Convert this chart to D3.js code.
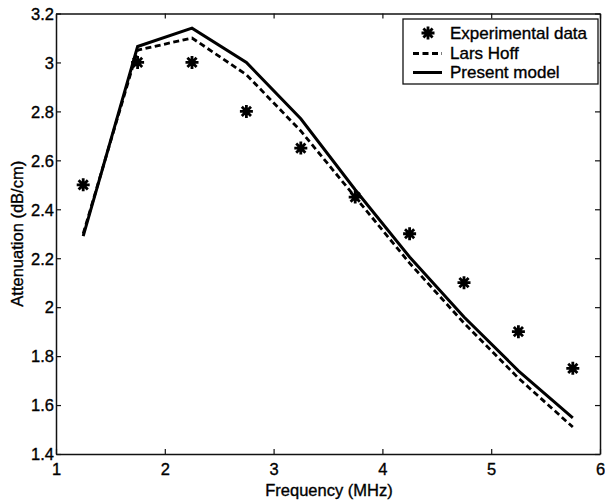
<!DOCTYPE html>
<html><head><meta charset="utf-8">
<script src="https://cdn.jsdelivr.net/npm/d3@7/dist/d3.min.js"></script>
<style>
body{margin:0;background:#fff;}
svg{display:block;font-family:"Liberation Sans",Arial,Helvetica,sans-serif;}
text{stroke:#000;stroke-width:0.35px;}
</style></head>
<body><svg id="c" width="605" height="501"></svg>
<script>
const freq = [1.25, 1.75, 2.25, 2.75, 3.25, 3.75, 4.25, 4.75, 5.25, 5.75];
const experimental = [2.5, 3.0, 3.0, 2.8, 2.65, 2.45, 2.3, 2.1, 1.9, 1.75];
const larsHoff = [2.30, 3.05, 3.10, 2.95, 2.72, 2.45, 2.18, 1.935, 1.71, 1.51];
const presentModel = [2.29, 3.065, 3.14, 3.0, 2.77, 2.48, 2.205, 1.96, 1.74, 1.548];
const xTicks = [1, 2, 3, 4, 5, 6];
const yTicks = [1.4, 1.6, 1.8, 2, 2.2, 2.4, 2.6, 2.8, 3, 3.2];
const legendLabels = ["Experimental data", "Lars Hoff", "Present model"];

const L = 56, R = 600, T = 13.5, B = 454;
const svg = d3.select("#c");
const x = d3.scaleLinear().domain([1, 6]).range([L, R]);
const y = d3.scaleLinear().domain([1.4, 3.2]).range([B, T]);
const fs = 16.5;

// axes (MATLAB box with inward ticks)
const fmt = d => String(+d.toFixed(1));
const gB = svg.append("g").attr("transform", `translate(0,${B})`)
  .call(d3.axisBottom(x).tickValues(xTicks).tickSizeInner(-5).tickSizeOuter(0).tickPadding(9).tickFormat(fmt));
const gT = svg.append("g").attr("transform", `translate(0,${T})`)
  .call(d3.axisTop(x).tickValues(xTicks).tickSizeInner(-5).tickSizeOuter(0).tickFormat(""));
const gL = svg.append("g").attr("transform", `translate(${L},0)`)
  .call(d3.axisLeft(y).tickValues(yTicks).tickSizeInner(-5).tickSizeOuter(0).tickPadding(2).tickFormat(fmt));
const gR = svg.append("g").attr("transform", `translate(${R},0)`)
  .call(d3.axisRight(y).tickValues(yTicks).tickSizeInner(-5).tickSizeOuter(0).tickFormat(""));
[gB, gT, gL, gR].forEach(g => {
  g.select(".domain").attr("stroke", "#111").attr("stroke-width", 1.5);
  g.selectAll(".tick line").attr("stroke", "#111").attr("stroke-width", 1.2);
  g.selectAll("text").attr("font-size", fs).attr("fill", "#000").attr("font-family", null);
});
gB.selectAll("text").attr("dy", "0.71em");
gL.selectAll("text").attr("dy", "0.35em");

// axis titles
svg.append("text").attr("x", (L + R) / 2 + 1).attr("y", 496).attr("text-anchor", "middle")
  .attr("font-size", fs).text("Frequency (MHz)");
svg.append("text").attr("transform", `translate(23,${(T + B) / 2}) rotate(-90)`)
  .attr("text-anchor", "middle").attr("font-size", fs).text("Attenuation (dB/cm)");

// lines
const line = d3.line().x(d => x(d[0])).y(d => y(d[1]));
svg.append("path").datum(freq.map((f, i) => [f, larsHoff[i]]))
  .attr("d", line).attr("fill", "none").attr("stroke", "#000").attr("stroke-width", 2.8)
  .attr("stroke-dasharray", "6,3.5");
svg.append("path").datum(freq.map((f, i) => [f, presentModel[i]]))
  .attr("d", line).attr("fill", "none").attr("stroke", "#000").attr("stroke-width", 3);

// asterisk marker
function star(g, cx, cy, r) {
  const a = r * Math.SQRT1_2;
  const p = `M${cx - r},${cy}L${cx + r},${cy}M${cx},${cy - r}L${cx},${cy + r}` +
    `M${cx - a},${cy - a}L${cx + a},${cy + a}M${cx - a},${cy + a}L${cx + a},${cy - a}`;
  g.append("path").attr("d", p).attr("stroke", "#000").attr("stroke-width", 2.8).attr("fill", "none");
}
const gs = svg.append("g");
freq.forEach((f, i) => star(gs, x(f), y(experimental[i]), 6.5));

// legend
const lg = svg.append("g");
lg.append("rect").attr("x", 403).attr("y", 19).attr("width", 195).attr("height", 65)
  .attr("fill", "#fff").attr("stroke", "#111").attr("stroke-width", 1.3);
const rowY = [33, 53.5, 72.5];
star(lg, 428, rowY[0], 6.5);
lg.append("line").attr("x1", 413).attr("x2", 442).attr("y1", rowY[1]).attr("y2", rowY[1])
  .attr("stroke", "#000").attr("stroke-width", 2.8).attr("stroke-dasharray", "6,3.5");
lg.append("line").attr("x1", 413).attr("x2", 442).attr("y1", rowY[2]).attr("y2", rowY[2])
  .attr("stroke", "#000").attr("stroke-width", 3);
legendLabels.forEach((t, i) => lg.append("text").attr("x", 450).attr("y", rowY[i]).attr("dy", "0.35em")
  .attr("font-size", fs + 0.5).text(t));
</script></body></html>
